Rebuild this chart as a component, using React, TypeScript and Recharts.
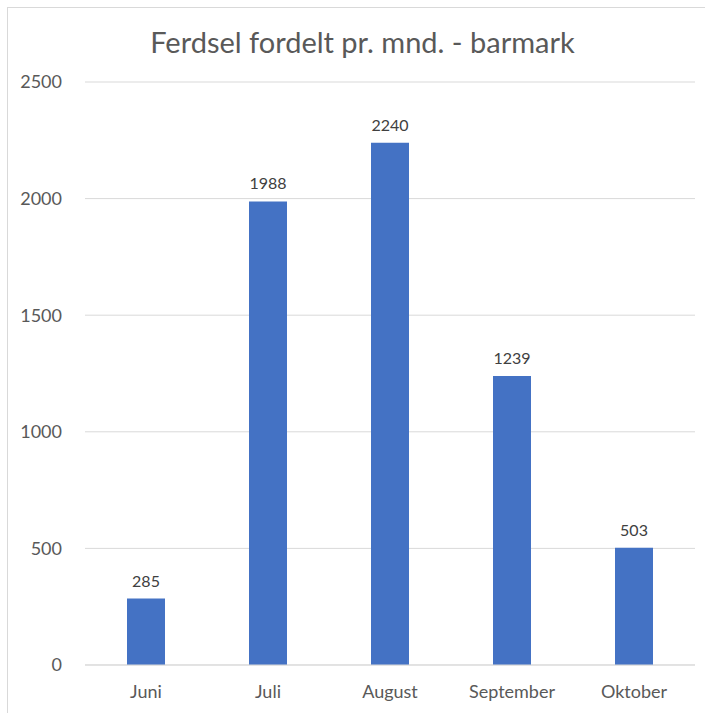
import React from "react";
import { BarChart, Bar, XAxis, YAxis, CartesianGrid, LabelList } from "recharts";

const months = ["Juni", "Juli", "August", "September", "Oktober"];
const values = [285, 1988, 2240, 1239, 503];
const yTicks = [0, 500, 1000, 1500, 2000, 2500];
const title = "Ferdsel fordelt pr. mnd. - barmark";

const data = months.map((m, i) => ({ month: m, value: values[i] }));

const FONT = "Lato, 'Open Sans', sans-serif";

export default function App() {
  return (
    <div style={{ position: "absolute", left: 0, top: 0, width: 705, height: 713, background: "#fff", overflow: "hidden" }}>
      <div
        style={{
          position: "absolute",
          left: 7,
          top: 7,
          width: 720,
          height: 720,
          borderLeft: "1px solid #d9d9d9",
          borderTop: "1px solid #d9d9d9",
        }}
      />
      <div
        style={{
          position: "absolute",
          left: 0,
          top: 22,
          width: 725,
          textAlign: "center",
          fontFamily: FONT,
          fontSize: 29,
          color: "#595959",
          lineHeight: "40px",
        }}
      >
        {title}
      </div>
      <div style={{ position: "absolute", left: 0, top: 0 }}>
        <BarChart
          width={705}
          height={713}
          data={data}
          margin={{ top: 82, right: 10, bottom: 0, left: 0 }}
        >
          <CartesianGrid vertical={false} stroke="#d9d9d9" strokeWidth={1} />
          <XAxis
            dataKey="month"
            height={48}
            axisLine={{ stroke: "#d9d9d9" }}
            tickLine={false}
            tickSize={0}
            tickMargin={20}
            tick={{ fill: "#595959", fontSize: 18, fontFamily: FONT }}
            interval={0}
          />
          <YAxis
            width={85}
            domain={[0, 2500]}
            ticks={yTicks}
            axisLine={false}
            tickLine={false}
            tickSize={0}
            tickMargin={23}
            tick={{ fill: "#595959", fontSize: 18, fontFamily: FONT }}
          />
          <Bar dataKey="value" fill="#4472C4" barSize={38} isAnimationActive={false}>
            <LabelList
              dataKey="value"
              position="top"
              offset={12}
              style={{ fill: "#404040", fontSize: 16, fontFamily: FONT }}
            />
          </Bar>
        </BarChart>
      </div>
    </div>
  );
}
